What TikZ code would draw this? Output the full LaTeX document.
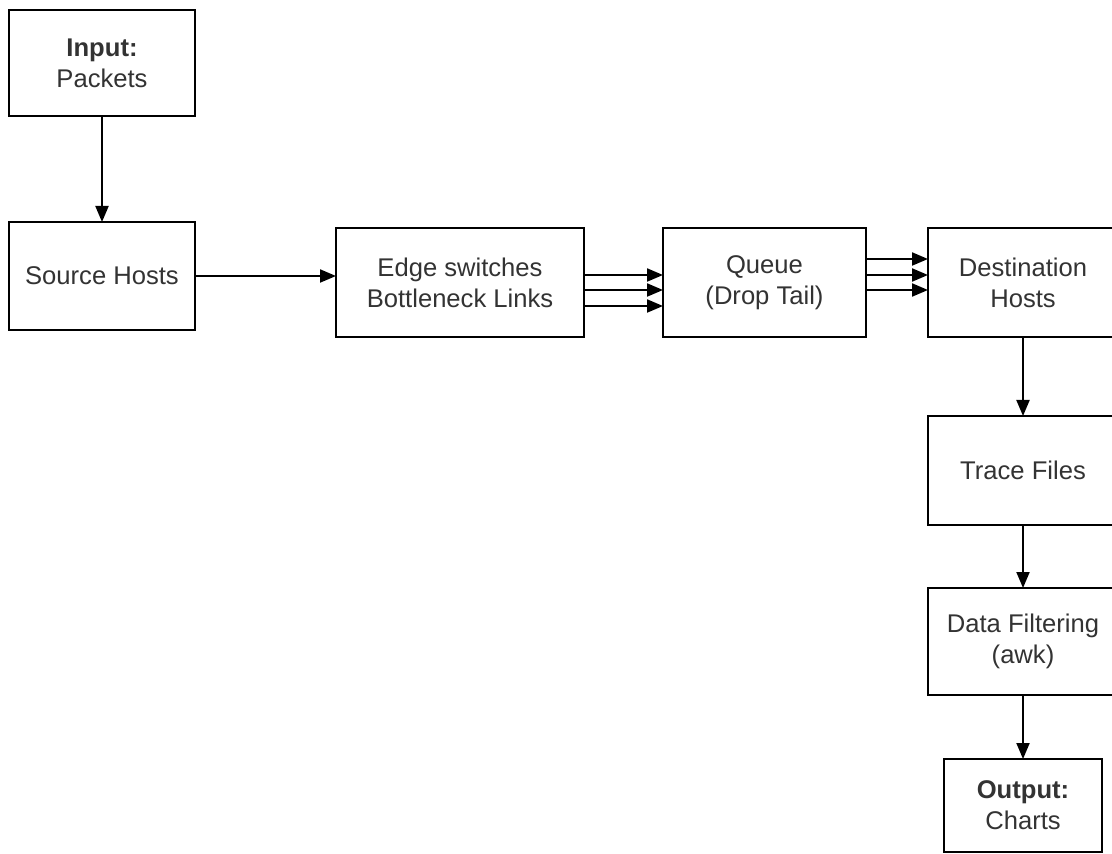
\documentclass[tikz,border=0pt]{standalone}
\usepackage{fontspec}
\setmainfont{Liberation Sans}
\usetikzlibrary{arrows.meta}
\begin{document}
\begin{tikzpicture}[x=0.5pt,y=-0.5pt,
  box/.style={draw=black,line width=1.2pt,rectangle,inner sep=0pt,outer sep=0pt,
    align=center,text=black!80,font=\fontsize{12.8}{15.5}\selectfont},
  flow/.style={draw=black,line width=1pt,-{Triangle[length=8pt,width=6.5pt]}}]
\useasboundingbox (0,0) rectangle (1112,854);
\fill[white] (0,0) rectangle (1112,854);

\node[box,minimum width=93pt,minimum height=53pt] (inp) at (102,63)
  {\textbf{Input:}\\Packets};
\node[box,minimum width=93pt,minimum height=54pt] (src) at (102,276)
  {Source Hosts};
\node[box,minimum width=124pt,minimum height=54.5pt] (edge) at (460,282.5)
  {Edge switches\\Bottleneck Links};
\node[box,minimum width=101.5pt,minimum height=54.5pt] (queue) at (764.5,282.5)
  {Queue\\(Drop Tail)};
\node[box,minimum width=95pt,minimum height=54.5pt] (dest) at (1023,282.5)
  {Destination\\Hosts};
\node[box,minimum width=95pt,minimum height=54.5pt] (trace) at (1023,470.5)
  {Trace Files};
\node[box,minimum width=95pt,minimum height=53.5pt] (filt) at (1023,641.5)
  {Data Filtering\\(awk)};
\node[box,minimum width=79pt,minimum height=46.5pt] (out) at (1023,805.5)
  {\textbf{Output:}\\Charts};

\draw[flow] (inp.south) -- (src.north);
\draw[flow] (src.east) -- (src.east -| edge.west);

\foreach \s in {3.75,-3.75,-11.75}
  \draw[flow] ([yshift=\s pt]edge.east) -- ([yshift=\s pt]queue.west);
\foreach \s in {11.75,3.75,-3.75}
  \draw[flow] ([yshift=\s pt]queue.east) -- ([yshift=\s pt]dest.west);

\draw[flow] (dest.south) -- (trace.north);
\draw[flow] (trace.south) -- (filt.north);
\draw[flow] (filt.south) -- (out.north);
\end{tikzpicture}
\end{document}
